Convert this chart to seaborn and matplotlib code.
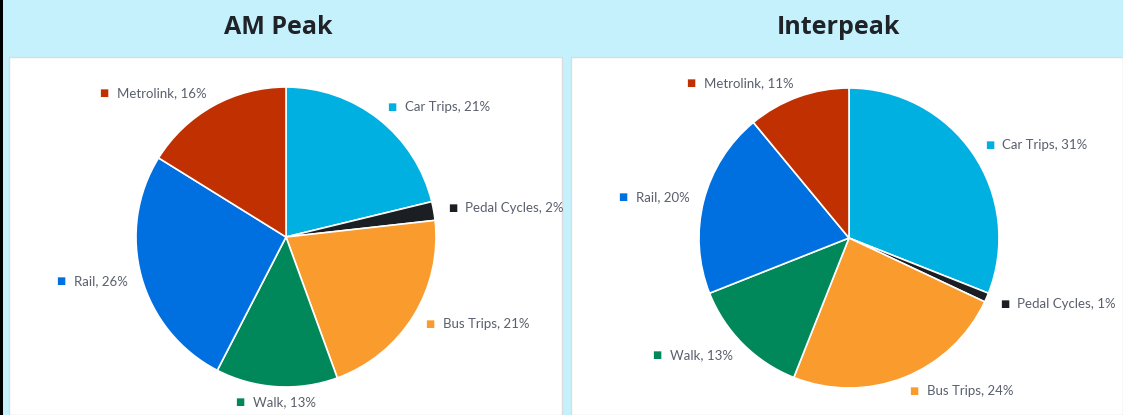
import matplotlib
matplotlib.use("Agg")
import matplotlib.pyplot as plt
import seaborn as sns
import numpy as np
from matplotlib.offsetbox import TextArea, HPacker, AnnotationBbox
from matplotlib.patches import Rectangle

# ----------------------------
# Data: trip shares by mode
# ----------------------------
modes = ["Car Trips", "Pedal Cycles", "Bus Trips", "Walk", "Rail", "Metrolink"]
am_peak = [21, 2, 21, 13, 26, 16]
interpeak = [31, 1, 24, 13, 20, 11]
mode_colors = ["#00B0E0", "#1B1F24", "#F99B2D", "#00885A", "#0070E0", "#C03000"]

sns.set_theme(style="white")
plt.rcParams["font.family"] = ["Lato", "DejaVu Sans"]

W, H = 1123, 415
fig = plt.figure(figsize=(W / 100, H / 100), dpi=100, facecolor="#C5F1FD")

# white panels + left border (behind the axes)
fig.patches.append(Rectangle((9 / W, 0), (562 - 9) / W, (415 - 57) / H, transform=fig.transFigure,
                             facecolor="white", edgecolor="#D9DDE0", lw=1, zorder=-5))
fig.patches.append(Rectangle((571 / W, 0), (1123 - 571) / W, (415 - 57) / H, transform=fig.transFigure,
                             facecolor="white", edgecolor="#D9DDE0", lw=1, zorder=-5))
fig.patches.append(Rectangle((0, 0), 3 / W, 1, transform=fig.transFigure, facecolor="black",
                             lw=0, zorder=-5))


def draw_pie(cx, cy, values, title, title_x):
    size = 390
    ax = fig.add_axes([(cx - size / 2) / W, (H - cy - size / 2) / H, size / W, size / H])
    ax.set_facecolor("none")
    wedges, _ = ax.pie(values, colors=mode_colors, startangle=90, counterclock=False, radius=1,
                       wedgeprops=dict(edgecolor="white", linewidth=1.2))
    ax.set_xlim(-1.3, 1.3)
    ax.set_ylim(-1.3, 1.3)
    ax.set_aspect("equal")
    ax.axis("off")
    total = sum(values)
    for w, name, v in zip(wedges, modes, values):
        ang = np.deg2rad((w.theta1 + w.theta2) / 2)
        x, y = 1.095 * np.cos(ang), 1.1 * np.sin(ang)
        label = f"{name}, {round(100 * v / total)}%"
        box = HPacker(children=[TextArea("■", textprops=dict(color=w.get_facecolor(), fontsize=7,
                                                              family="DejaVu Sans")),
                                TextArea(label, textprops=dict(color="#595F6D", fontsize=9.5))],
                      align="center", pad=0, sep=6)
        if abs(np.cos(ang)) < 0.15:
            bx = 0.5
        elif np.cos(ang) > 0:
            bx = 0
        else:
            bx = 1
        ab = AnnotationBbox(box, (x, y), xycoords="data", box_alignment=(bx, 0.5),
                            frameon=False, pad=0, annotation_clip=False)
        ax.add_artist(ab)
    fig.text(title_x / W, 1 - 27 / H, title, ha="center", va="center", fontsize=18,
             weight="bold", color="#1F2328", family=["Open Sans", "DejaVu Sans"])


draw_pie(286, 237, am_peak, "AM Peak", 278)
draw_pie(849, 238, interpeak, "Interpeak", 838)

fig.savefig("out.png", dpi=100, facecolor=fig.get_facecolor())
